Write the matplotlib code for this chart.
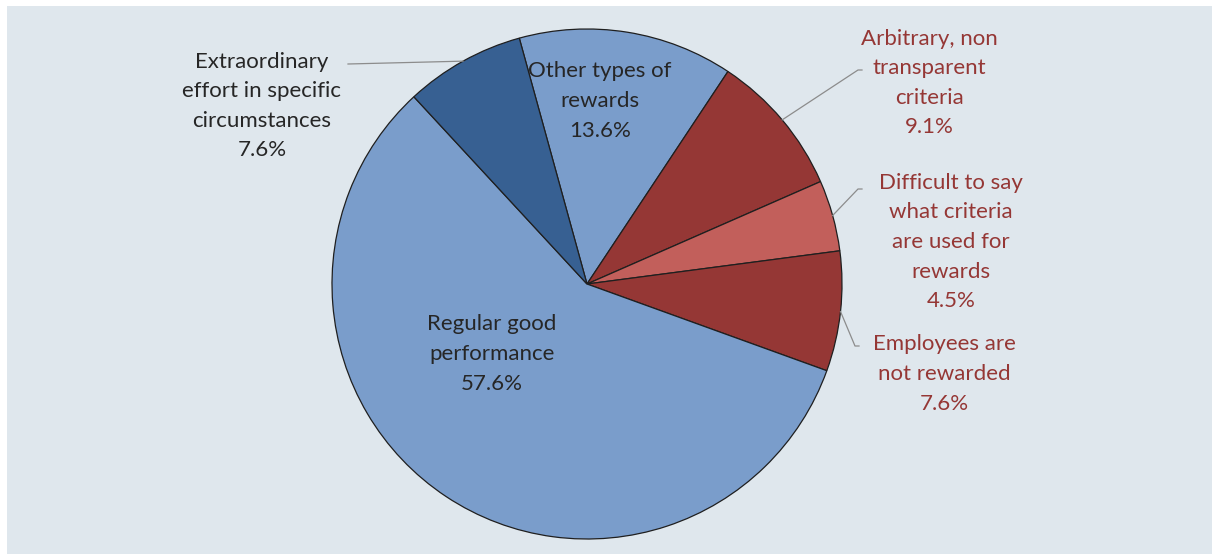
import numpy as np
import matplotlib.pyplot as plt
from matplotlib.patches import Rectangle

# reward criteria shares (%), clockwise from the top
LABELS = [
    "Other types of\nrewards",
    "Arbitrary, non\ntransparent\ncriteria",
    "Difficult to say\nwhat criteria\nare used for\nrewards",
    "Employees are\nnot rewarded",
    "Regular good\nperformance",
    "Extraordinary\neffort in specific\ncircumstances",
]
VALUES = [13.6, 9.1, 4.5, 7.6, 57.6, 7.6]
COLORS = ["#7A9DCB", "#953735", "#C25F5B", "#953735", "#7A9DCB", "#376092"]
TEXT_COLORS = ["#262626", "#953735", "#953735", "#953735", "#262626", "#262626"]

W, H = 1212, 555
CX, CY, R = 587, H - 284, 255

# label placement: (x, y in px from top, leader elbow x or None)
LABEL_POS = [
    (600, 101, None),
    (929, 83, 858),
    (951, 242, 858),
    (944, 374, 855),
    (492, 354, None),
    (262, 106, 348),
]
LEADER_Y = [None, 70, 189, 346, None, 64]

plt.rcParams["font.family"] = ["Lato", "DejaVu Sans"]

fig = plt.figure(figsize=(W / 100, H / 100), dpi=100)
fig.patch.set_facecolor("white")
fig.add_artist(Rectangle((7 / W, 1 / H), 1 - 7 / W, 548 / H,
                         transform=fig.transFigure, facecolor="#DFE7ED",
                         edgecolor="none", zorder=0))
ax = fig.add_axes([0, 0, 1, 1])
ax.patch.set_alpha(0)

wedges, _ = ax.pie(VALUES, colors=COLORS, startangle=105.4, counterclock=False,
                   center=(CX, CY), radius=R,
                   wedgeprops=dict(edgecolor="#1f1f1f", linewidth=0.9))

for w, lab, val, tc, (tx, ty, ex), ly in zip(wedges, LABELS, VALUES,
                                            TEXT_COLORS, LABEL_POS, LEADER_Y):
    ax.text(tx, H - ty, f"{lab}\n{val:.1f}%", ha="center", va="center",
            fontsize=16, color=tc, linespacing=1.6)
    if ex is not None:
        mid = np.deg2rad((w.theta1 + w.theta2) / 2)
        px, py = CX + R * np.cos(mid), CY + R * np.sin(mid)
        if ex > CX:
            xs, ys = [px, ex, ex + 4], [py, H - ly, H - ly]
        else:
            xs, ys = [px, ex], [py, H - ly]
        ax.plot(xs, ys, color="#8C8C8C", linewidth=0.9)

ax.set_xlim(0, W)
ax.set_ylim(0, H)
ax.set_aspect("equal")
ax.axis("off")

fig.savefig("out.png", dpi=100)
